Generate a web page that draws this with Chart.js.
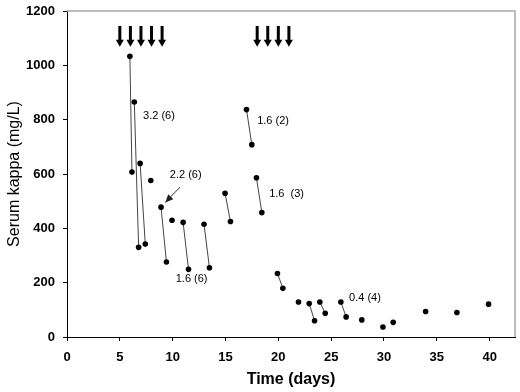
<!DOCTYPE html>
<html>
<head>
<meta charset="utf-8">
<script src="https://cdn.jsdelivr.net/npm/chart.js@4.4.1/dist/chart.umd.min.js"></script>
<style>
  html, body { margin: 0; padding: 0; background: #fff; }
  #chart { display: block; }
</style>
</head>
<body>
<canvas id="chart" width="520" height="392"></canvas>
<script>
// serum kappa over time, pre/post exchange pairs joined by a line
const days = [5.95, 6.15, 6.37, 6.78, 6.92, 7.41, 7.93, 8.9, 9.41, 9.94, 10.99, 11.5, 12.97, 13.48,
    14.96, 15.47, 16.99, 17.49, 17.93, 18.44, 19.92, 20.43, 21.91, 22.92, 23.43, 23.93, 24.44,
    25.92, 26.42, 27.9, 29.9, 30.87, 33.94, 36.9, 39.9];
const kappa = [1033, 607, 865, 330, 639, 342, 576, 478, 276, 430, 422, 249, 415, 255,
    529, 425, 837, 708, 586, 458, 234, 179, 129, 123, 60, 129, 87,
    129, 74, 63, 37, 54, 94, 90, 121];
// 1 = point is joined to the next one
const linked = [1, 0, 1, 0, 1, 0, 0, 1, 0, 0, 1, 0, 1, 0,
    1, 0, 1, 0, 1, 0, 1, 0, 0, 1, 0, 1, 0,
    1, 0, 0, 0, 0, 0, 0, 0];

const xTicks = [0, 5, 10, 15, 20, 25, 30, 35, 40];
const yTicks = [0, 200, 400, 600, 800, 1000, 1200];

// treatment days (arrows at the top)
const arrowDays = [5, 6, 7, 8, 9, 18, 19, 20, 21];
const arrowTop = 1145;
const arrowTip = 1068;

// text notes: [label, day, kappa]
const noteText = ['3.2 (6)', '2.2 (6)', '1.6 (6)', '1.6 (2)', '1.6  (3)', '0.4 (4)'];
const noteDay = [7.2, 9.73, 10.29, 18.0, 19.13, 26.7];
const noteKappa = [812, 597, 212, 794, 526, 142];

// leader arrow from "2.2 (6)" to its point
const leaderFrom = [10.7, 552];
const leaderTo = [9.3, 495];

const FONT = 'Arial, "Liberation Sans", sans-serif';

const points = days.map((d, i) => ({ x: d, y: kappa[i] }));

function drawHead(ctx, x1, y1, x2, y2, len, half) {
    const a = Math.atan2(y2 - y1, x2 - x1);
    ctx.beginPath();
    ctx.moveTo(x2, y2);
    ctx.lineTo(x2 - len * Math.cos(a) + half * Math.sin(a), y2 - len * Math.sin(a) - half * Math.cos(a));
    ctx.lineTo(x2 - len * Math.cos(a) - half * Math.sin(a), y2 - len * Math.sin(a) + half * Math.cos(a));
    ctx.closePath();
    ctx.fill();
}

const extras = {
    id: 'extras',
    afterDraw(chart) {
        const { ctx, chartArea: a, scales: { x, y } } = chart;
        ctx.save();

        // gray frame top + right
        ctx.strokeStyle = '#a8a8a8';
        ctx.lineWidth = 1.5;
        ctx.beginPath();
        ctx.moveTo(a.left, a.top);
        ctx.lineTo(a.right, a.top);
        ctx.lineTo(a.right, a.bottom);
        ctx.stroke();

        // treatment arrows
        ctx.fillStyle = '#000';
        ctx.strokeStyle = '#000';
        arrowDays.forEach(d => {
            const px = x.getPixelForValue(d);
            const y0 = y.getPixelForValue(arrowTop);
            const y1 = y.getPixelForValue(arrowTip);
            ctx.lineWidth = 3;
            ctx.beginPath();
            ctx.moveTo(px, y0);
            ctx.lineTo(px, y1 - 5);
            ctx.stroke();
            drawHead(ctx, px, y0, px, y1, 7, 4);
        });

        // notes
        ctx.font = '11px ' + FONT;
        ctx.textAlign = 'left';
        ctx.textBaseline = 'middle';
        noteText.forEach((t, i) => {
            ctx.fillText(t, x.getPixelForValue(noteDay[i]), y.getPixelForValue(noteKappa[i]));
        });

        // leader arrow
        const lx1 = x.getPixelForValue(leaderFrom[0]), ly1 = y.getPixelForValue(leaderFrom[1]);
        const lx2 = x.getPixelForValue(leaderTo[0]), ly2 = y.getPixelForValue(leaderTo[1]);
        ctx.strokeStyle = '#333';
        ctx.fillStyle = '#222';
        ctx.lineWidth = 1;
        ctx.beginPath();
        ctx.moveTo(lx1, ly1);
        ctx.lineTo(lx2, ly2);
        ctx.stroke();
        drawHead(ctx, lx1, ly1, lx2, ly2, 8, 3.5);

        ctx.restore();
    }
};

new Chart(document.getElementById('chart'), {
    type: 'scatter',
    data: {
        datasets: [{
            data: points,
            showLine: true,
            borderWidth: 1,
            borderColor: '#444',
            segment: {
                borderColor: c => linked[c.p0DataIndex] ? '#444' : 'rgba(0,0,0,0)'
            },
            pointRadius: 2.8,
            pointBorderWidth: 0,
            pointBackgroundColor: '#000',
            pointBorderColor: '#000'
        }]
    },
    options: {
        responsive: false,
        animation: false,
        devicePixelRatio: 1,
        layout: { padding: { top: 11, right: 5, left: 0, bottom: 0 } },
        plugins: { legend: { display: false }, tooltip: { enabled: false } },
        scales: {
            x: {
                type: 'linear',
                min: 0,
                max: 42.4,
                afterBuildTicks: s => { s.ticks = xTicks.map(v => ({ value: v })); },
                afterFit: s => { s.height = 55; s.paddingLeft = 0; s.paddingRight = 0; },
                grid: { drawOnChartArea: false, tickLength: 4, color: '#000' },
                border: { color: '#000', width: 1 },
                ticks: { color: '#000', padding: 9, maxRotation: 0, font: { family: FONT, size: 13, weight: 'bold' } },
                title: {
                    display: true,
                    text: 'Time (days)',
                    color: '#000',
                    padding: { top: 0, bottom: 3 },
                    font: { family: FONT, size: 16, weight: 'bold' }
                }
            },
            y: {
                min: 0,
                max: 1200,
                afterBuildTicks: s => { s.ticks = yTicks.map(v => ({ value: v })); },
                afterFit: s => { s.width = 67; s.paddingTop = 0; s.paddingBottom = 0; },
                grid: { drawOnChartArea: false, tickLength: 4, color: '#000' },
                border: { color: '#000', width: 1 },
                ticks: {
                    color: '#000',
                    padding: 8,
                    callback: v => String(v),
                    font: { family: FONT, size: 13, weight: 'bold' }
                },
                title: {
                    display: true,
                    text: 'Serum kappa (mg/L)',
                    color: '#000',
                    padding: { top: 5, bottom: 0 },
                    font: { family: FONT, size: 16, weight: 'normal' }
                }
            }
        }
    },
    plugins: [extras]
});
</script>
</body>
</html>
